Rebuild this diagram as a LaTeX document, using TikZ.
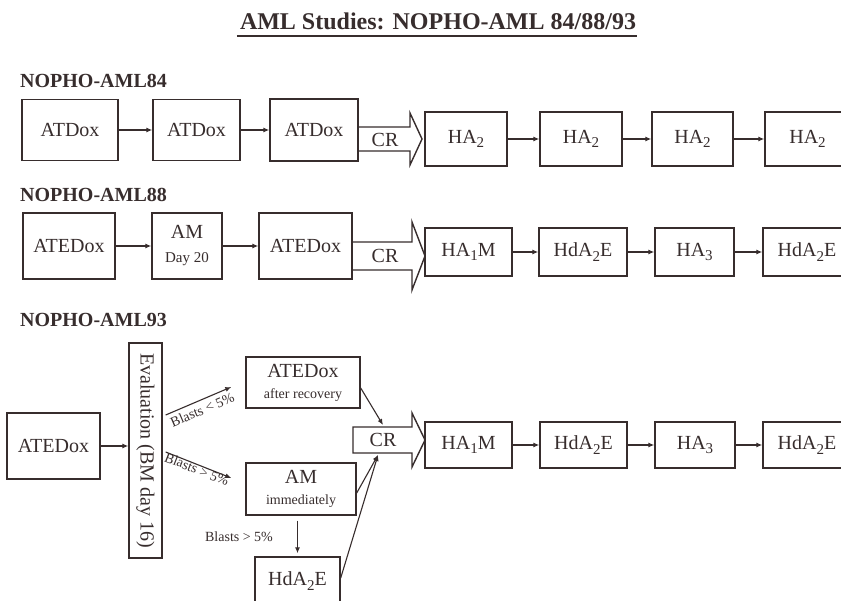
\documentclass[tikz,border=0pt]{standalone}
\usepackage{fontspec}
\setmainfont{Liberation Serif}
\usepackage{graphicx}
\usetikzlibrary{arrows.meta}
\definecolor{ink}{RGB}{55,45,45}
\newcommand\sbs[1]{\raisebox{-0.45ex}{\scalebox{0.75}{#1}}}
\begin{document}
\begin{tikzpicture}[x=1pt,y=-1pt,
  box/.style={draw=ink,line width=1.4pt,rectangle,inner sep=0pt,align=center,
    font=\fontsize{20}{22}\selectfont,text=ink},
  lbl/.style={font=\bfseries\fontsize{20}{22}\selectfont,text=ink,anchor=base west,inner sep=0pt},
  conn/.style={draw=ink,line width=1.1pt,-{Latex[length=6pt,width=5pt]}},
  crshape/.style={draw=ink,line width=1.4pt,line join=miter},
  crtext/.style={font=\fontsize{20}{22}\selectfont,text=ink,inner sep=0pt},
  small/.style={font=\fontsize{14}{15}\selectfont,text=ink,inner sep=2pt}
]
\useasboundingbox (0,0) rectangle (841,601);
\fill[white] (0,0) rectangle (841,601);
\clip (0,0) rectangle (841,601);

% title
\node[font=\bfseries\fontsize{24}{26}\selectfont,text=ink,inner sep=0pt,anchor=base] (title) at (438,30) {AML Studies: NOPHO-AML 84/88/93};
\draw[ink,line width=2.2pt] ([xshift=-3pt,yshift=-6pt]title.base west) -- ([xshift=1pt,yshift=-6pt]title.base east);

% ---------- NOPHO-AML84
\node[lbl] (s84) at (20,88) {NOPHO-AML84};
\node[box,minimum width=96,minimum height=61] (a1) at (70,130) {ATDox};
\node[box,minimum width=87,minimum height=61] (a2) at (196.5,130) {ATDox};
\node[box,minimum width=88,minimum height=62] (a3) at (314,130) {ATDox};
\draw[crshape] (a3.east |- 0,127) -- (410,127) -- (410,113) -- (422,139) -- (410,165) -- (410,151) -- (a3.east |- 0,151);
\node[crtext] (cr1) at (385,140) {CR};
\node[box,minimum width=82,minimum height=54] (b1) at (466,139) {HA\sbs{2}};
\node[box,minimum width=82,minimum height=54] (b2) at (581,139) {HA\sbs{2}};
\node[box,minimum width=81,minimum height=54] (b3) at (692.5,139) {HA\sbs{2}};
\node[box,minimum width=85,minimum height=54] (b4) at (807.5,139) {HA\sbs{2}};
\draw[conn] (a1) -- (a2);
\draw[conn] (a2) -- (a3);
\draw[conn] (b1) -- (b2);
\draw[conn] (b2) -- (b3);
\draw[conn] (b3) -- (b4);

% ---------- NOPHO-AML88
\node[lbl] (s88) at (20,202) {NOPHO-AML88};
\node[box,minimum width=92,minimum height=66] (c1) at (69,246) {ATEDox};
\node[box,minimum width=70,minimum height=66] (c2) at (187,246) {AM\\[2pt]{\fontsize{15}{16}\selectfont Day 20}};
\node[box,minimum width=93,minimum height=66] (c3) at (305.5,246) {ATEDox};
\draw[crshape] (c3.east |- 0,242) -- (412,242) -- (412,222) -- (425,256) -- (412,290) -- (412,270) -- (c3.east |- 0,270);
\node[crtext] (cr2) at (385,256) {CR};
\node[box,minimum width=87,minimum height=48] (d1) at (468.5,252) {HA\sbs{1}M};
\node[box,minimum width=88,minimum height=48] (d2) at (583,252) {HdA\sbs{2}E};
\node[box,minimum width=79,minimum height=48] (d3) at (694.5,252) {HA\sbs{3}};
\node[box,minimum width=88,minimum height=48] (d4) at (807,252) {HdA\sbs{2}E};
\draw[conn] (c1) -- (c2);
\draw[conn] (c2) -- (c3);
\draw[conn] (d1) -- (d2);
\draw[conn] (d2) -- (d3);
\draw[conn] (d3) -- (d4);

% ---------- NOPHO-AML93
\node[lbl] (s93) at (20,327) {NOPHO-AML93};
\node[box,minimum width=93,minimum height=66] (e1) at (53.5,446) {ATEDox};
\node[box,minimum width=215,minimum height=33,rotate=-90,font=\fontsize{20}{22}\selectfont] (ev) at (145.5,450.5) {Evaluation (BM day 16)};
\node[box,minimum width=114,minimum height=51] (f1) at (303,382.5) {ATEDox\\[-1pt]{\fontsize{14}{15}\selectfont after recovery}};
\node[box,minimum width=110,minimum height=52] (f2) at (301,489) {AM\\[-1pt]{\fontsize{14}{15}\selectfont immediately}};
\node[box,minimum width=85,minimum height=48] (f3) at (297.5,581) {HdA\sbs{2}E};
\draw[crshape] (353,427) -- (412,427) -- (412,413) -- (425,440) -- (412,467) -- (412,453) -- (353,453) -- cycle;
\node[crtext] (cr3) at (383,440) {CR};
\node[box,minimum width=87,minimum height=46] (g1) at (468.5,445) {HA\sbs{1}M};
\node[box,minimum width=87,minimum height=46] (g2) at (583.5,445) {HdA\sbs{2}E};
\node[box,minimum width=80,minimum height=46] (g3) at (695,445) {HA\sbs{3}};
\node[box,minimum width=88,minimum height=46] (g4) at (807,445) {HdA\sbs{2}E};

\draw[conn] (e1.east) -- (e1.east -| ev.south);
\draw[conn] ([yshift=35.5pt,xshift=3pt]ev.north) -- ([xshift=-14pt,yshift=-4.5pt]f1.west)
  node[midway,below,sloped,small,yshift=-2pt] {Blasts < 5\%};
\draw[conn] ([yshift=-1.5pt,xshift=3pt]ev.north) -- ([xshift=-14pt,yshift=11pt]f2.west)
  node[midway,below,sloped,small,yshift=3pt] {Blasts > 5\%};
\draw[conn,shorten <=5pt,shorten >=3pt] (f3.north |- f2.south) -- (f3.north);
\node[small] (bl3) at (239,537) {Blasts > 5\%};

\coordinate (crin1) at (383,425);
\coordinate (crin2) at (378,455);
\draw[conn] ([yshift=-5.5pt]f1.east) -- (crin1);
\draw[conn] ([yshift=-4pt]f2.east) -- (crin2);
\draw[conn] ([yshift=3pt]f3.east) -- (crin2);

\draw[conn] (g1) -- (g2);
\draw[conn] (g2) -- (g3);
\draw[conn] (g3) -- (g4);
\end{tikzpicture}
\end{document}
